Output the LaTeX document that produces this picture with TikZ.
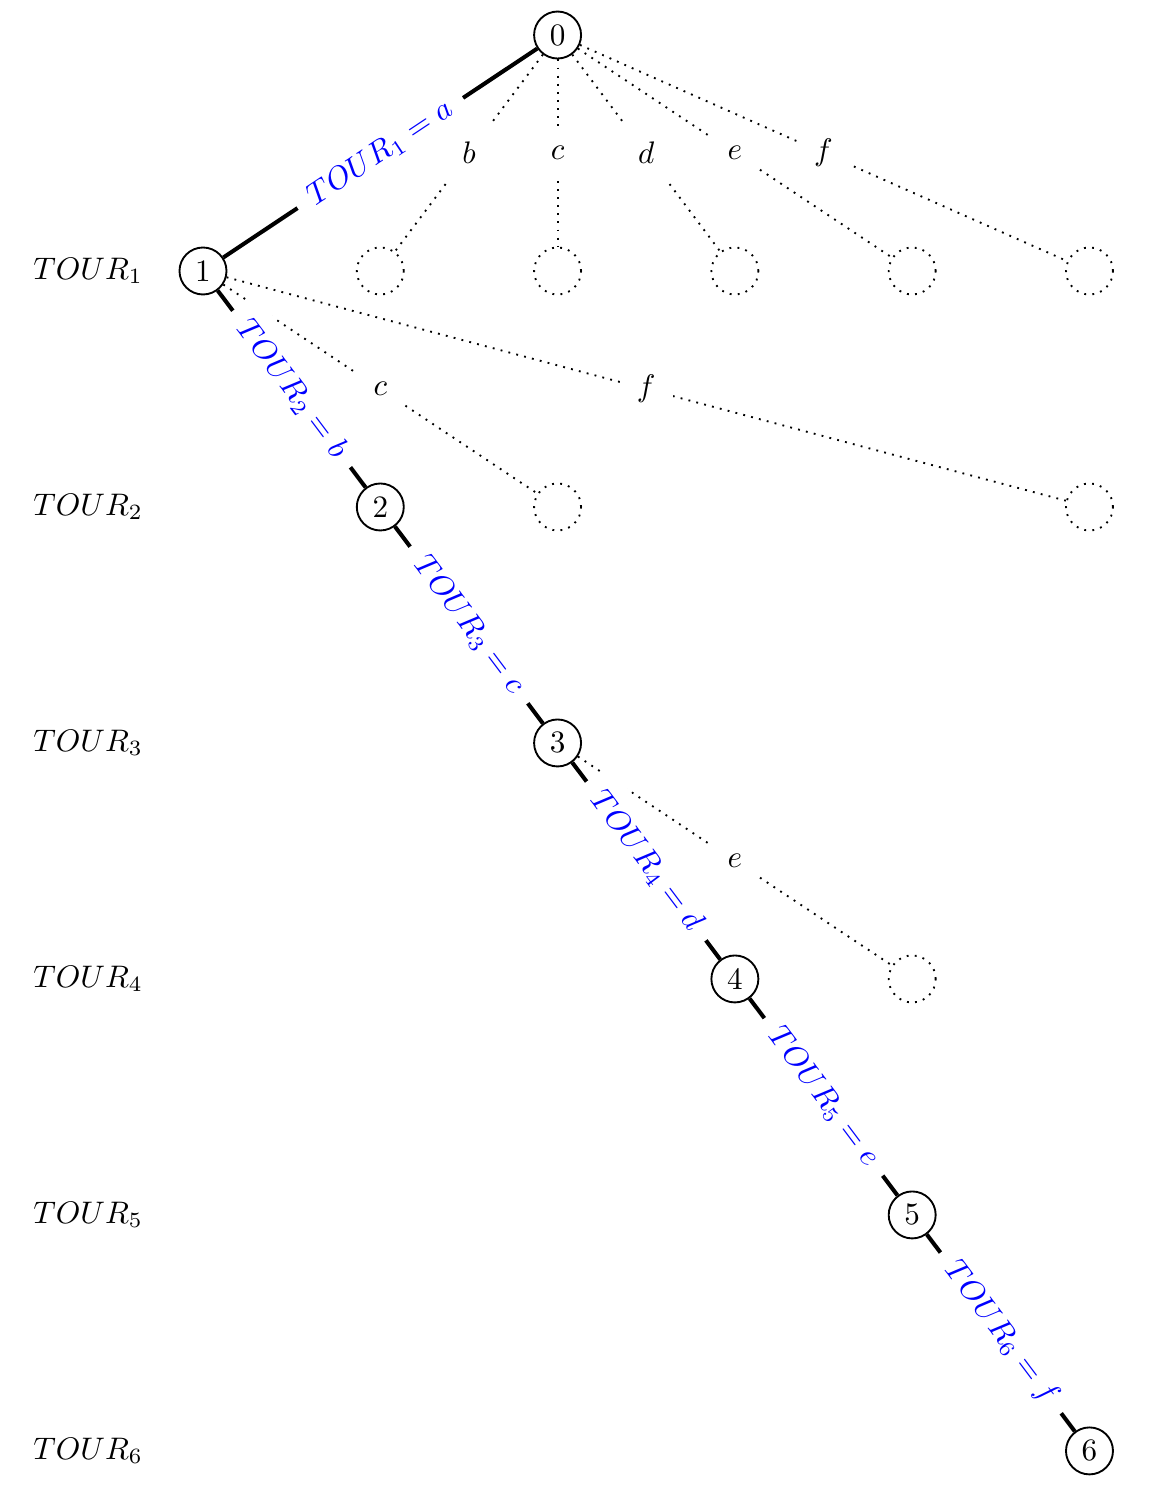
\documentclass[tikz,border=0pt]{standalone}
\usepackage{tikz}
\usetikzlibrary{
    positioning,
}

\begin{document}
\begin{tikzpicture}[
    node distance = 2.662cm and 2cm, on grid,
    vertex/.style={draw, semithick, circle, minimum size=0.53cm, inner sep=0pt, fill=white},
    ghost/.style={draw, semithick, dotted, circle, minimum size=0.53cm, inner sep=0pt},
    pick/.style={line width=1.3pt},
    skip/.style={semithick, dotted},
    choice/.style={midway, sloped, fill=white, text=blue, inner sep=5pt},
    letter/.style={midway, fill=white, inner sep=5.5pt},
    tourname/.style={inner sep=0pt},
    ]

\useasboundingbox (-6.29,0.395) rectangle (6.728,-16.368);

% the chosen path
\node[vertex] at (0,0) (n0) {0};
\node[vertex] [below left=2.662cm and 4cm of n0] (n1) {1};
\node[vertex] [below right=of n1] (n2) {2};
\node[vertex] [below right=of n2] (n3) {3};
\node[vertex] [below right=of n3] (n4) {4};
\node[vertex] [below right=of n4] (n5) {5};
\node[vertex] [below right=of n5] (n6) {6};

% branches not taken
\node[ghost] [below left=of n0] (g1b) {};
\node[ghost] [below=of n0] (g1c) {};
\node[ghost] [below right=of n0] (g1d) {};
\node[ghost] [below right=2.662cm and 4cm of n0] (g1e) {};
\node[ghost] [below right=2.662cm and 6cm of n0] (g1f) {};
\node[ghost] [below right=2.662cm and 4cm of n1] (g2c) {};
\node[ghost] [below right=2.662cm and 10cm of n1] (g2f) {};
\node[ghost] [below right=2.662cm and 4cm of n3] (g4e) {};

% level names
\node[tourname] [left=1.297cm of n1] (t1) {$TOUR_1$};
\node[tourname] [below=of t1] (t2) {$TOUR_2$};
\node[tourname] [below=of t2] (t3) {$TOUR_3$};
\node[tourname] [below=of t3] (t4) {$TOUR_4$};
\node[tourname] [below=of t4] (t5) {$TOUR_5$};
\node[tourname] [below=of t5] (t6) {$TOUR_6$};

\draw[skip] (n0) -- (g1b) node[letter] {$b$};
\draw[skip] (n0) -- (g1c) node[letter] {$c$};
\draw[skip] (n0) -- (g1d) node[letter] {$d$};
\draw[skip] (n0) -- (g1e) node[letter] {$e$};
\draw[skip] (n0) -- (g1f) node[letter] {$f$};
\draw[skip] (n1) -- (g2c) node[letter] {$c$};
\draw[skip] (n1) -- (g2f) node[letter] {$f$};
\draw[skip] (n3) -- (g4e) node[letter] {$e$};

\draw[pick] (n0) -- (n1) node[choice] {$TOUR_1 = a$};
\draw[pick] (n1) -- (n2) node[choice] {$TOUR_2 = b$};
\draw[pick] (n2) -- (n3) node[choice] {$TOUR_3 = c$};
\draw[pick] (n3) -- (n4) node[choice] {$TOUR_4 = d$};
\draw[pick] (n4) -- (n5) node[choice] {$TOUR_5 = e$};
\draw[pick] (n5) -- (n6) node[choice] {$TOUR_6 = f$};

\end{tikzpicture}
\end{document}
